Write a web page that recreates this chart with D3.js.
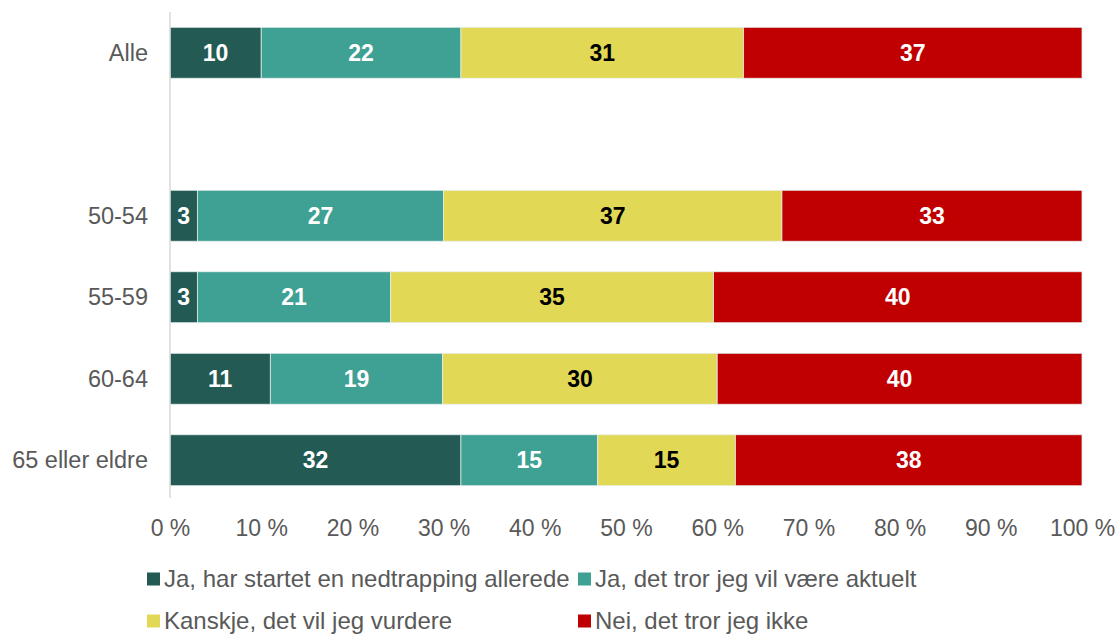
<!DOCTYPE html>
<html><head><meta charset="utf-8">
<script src="https://cdn.jsdelivr.net/npm/d3@7"></script>
<style>body{margin:0;background:#fff}svg{display:block}text{font-family:"Liberation Sans",Arial,sans-serif}</style>
</head><body><svg id="c" width="1117" height="634"></svg>
<script>
const categories = ["Alle", "", "50-54", "55-59", "60-64", "65 eller eldre"];
const seriesNames = ["Ja, har startet en nedtrapping allerede", "Ja, det tror jeg vil være aktuelt", "Kanskje, det vil jeg vurdere", "Nei, det tror jeg ikke"];
const seriesColors = ["#235B54", "#3FA094", "#E1D955", "#C00000"];
const labelColors = ["#ffffff", "#ffffff", "#000000", "#ffffff"];
const s1 = [10.0, null, 3.0, 3.0, 11.0, 31.9];
const s2 = [21.9, null, 27.0, 21.2, 18.9, 15.0];
const s3 = [31.0, null, 37.1, 35.4, 30.1, 15.1];
const s4 = [37.1, null, 32.9, 40.4, 40.0, 38.0];
const tickValues = [0, 10, 20, 30, 40, 50, 60, 70, 80, 90, 100];

const svg = d3.select("#c");
const x = d3.scaleLinear().domain([0, 100]).range([170, 1082]);
const y = d3.scaleBand().domain(categories.map((c, i) => i)).range([12, 501]).paddingInner(0.375).paddingOuter(0.1875);

const series = [s1, s2, s3, s4];
const rows = categories.map((c, i) => {
  let cum = 0;
  return series.map((s, k) => { const v = s[i]; const r = {i, k, v, x0: cum, x1: cum + (v || 0)}; cum += (v || 0); return r; });
});

const g = svg.append("g");
rows.forEach(r => r.forEach(d => {
  if (d.v == null) return;
  g.append("rect").attr("x", x(d.x0)).attr("y", y(d.i)).attr("width", x(d.x1) - x(d.x0)).attr("height", y.bandwidth())
    .attr("fill", seriesColors[d.k]).attr("stroke", "#e8eef0").attr("stroke-width", 0.75);
  g.append("text").attr("x", (x(d.x0) + x(d.x1)) / 2).attr("y", y(d.i) + y.bandwidth() / 2).attr("dy", "0.35em")
    .attr("text-anchor", "middle").attr("font-size", 23).attr("font-weight", "bold").attr("fill", labelColors[d.k])
    .text(Math.round(d.v));
}));

// vertical axis line
svg.append("line").attr("x1", 170).attr("x2", 170).attr("y1", 12).attr("y2", 498).attr("stroke", "#d9d9d9").attr("stroke-width", 1.5);

// category labels
categories.forEach((c, i) => {
  svg.append("text").attr("x", 148).attr("y", y(i) + y.bandwidth() / 2).attr("dy", "0.35em").attr("text-anchor", "end")
    .attr("font-size", 23.5).attr("fill", "#595959").text(c);
});

// x axis ticks
const xa = svg.append("g").attr("transform", "translate(0,528)").call(d3.axisBottom(x).tickValues(tickValues).tickSize(0).tickFormat(d => d + " %"));
xa.select(".domain").remove();
xa.selectAll("text").attr("font-size", 23).attr("fill", "#595959").attr("font-family", "Liberation Sans, Arial, sans-serif").attr("dy", "0.35em").attr("y", 0);

// legend
const legPos = [[147, 579], [578, 579], [147, 621], [578, 621]];
seriesNames.forEach((n, k) => {
  const [lx, ly] = legPos[k];
  svg.append("rect").attr("x", lx).attr("y", ly - 6.5).attr("width", 13).attr("height", 13).attr("fill", seriesColors[k]);
  svg.append("text").attr("x", lx + 17).attr("y", ly).attr("dy", "0.35em").attr("font-size", 24).attr("fill", "#595959").text(n);
});
</script></body></html>
